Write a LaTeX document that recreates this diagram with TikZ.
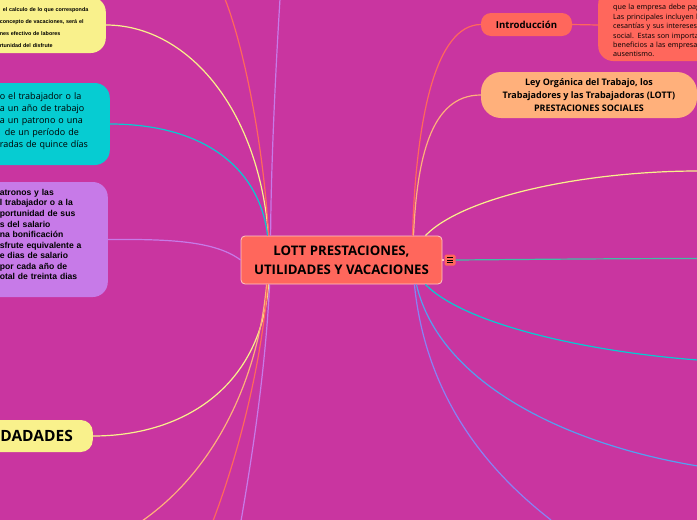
\documentclass[tikz,border=0pt]{standalone}
\usepackage{fontspec}
\setmainfont{Open Sans}
\newfontfamily\arialfont{Liberation Sans}
\definecolor{bgpink}{RGB}{201,53,160}
\definecolor{redbox}{RGB}{255,103,92}
\definecolor{yellowbox}{RGB}{249,241,140}
\definecolor{cyanbox}{RGB}{6,204,210}
\definecolor{purplebox}{RGB}{199,122,232}
\definecolor{orangebox}{RGB}{255,176,123}
\definecolor{tealline}{RGB}{64,190,165}
\definecolor{blueline}{RGB}{84,160,240}
\definecolor{periline}{RGB}{136,130,245}
\tikzset{
    side-box/.style = {fill=#1, rectangle, rounded corners=15pt, inner ysep=0pt, inner xsep=15pt},
    main-box/.style = {draw=white!65!redbox, fill=redbox, line width=0.8pt, rectangle, rounded corners=4pt, minimum width=201pt, minimum height=48pt, align=center, font=\fontsize{13.2}{19}\selectfont\bfseries},
    title-box/.style = {fill=#1, rectangle, align=center, inner sep=0pt, font=\fontsize{9}{12.6}\selectfont\bfseries},
    link/.style = {draw=#1, line width=1.2pt},
}

\begin{document}
\begin{tikzpicture}[x=1pt, y=-1pt]
\useasboundingbox (0,0) rectangle (697,520);
\clip (0,0) rectangle (697,520);
\fill[bgpink] (0,0) rectangle (697,520);

% free ends at the edge of the picture
\coordinate (top-red) at (225,-1);
\coordinate (top-purple) at (280,-1);
\coordinate (low-orange) at (142,521);
\coordinate (low-red) at (213,521);
\coordinate (low-purple) at (241,521);
\coordinate (right-yellow) at (698,171);
\coordinate (right-teal) at (698,258.5);
\coordinate (right-cyan) at (698,360);
\coordinate (right-blue) at (698,466);
\coordinate (right-peri) at (551,520);

\node [main-box] (main) at (341.5,260) {LOTT PRESTACIONES,\\UTILIDADES Y VACACIONES};

% left branches
\node [side-box=yellowbox, anchor=east, text width=91pt, minimum height=56pt, align=left, font=\arialfont\fontsize{5.4}{12}\selectfont\bfseries] (vac-calc) at (106,25) {\\[-2pt]\hspace*{3pt}el calculo de lo que corresponda\\concepto de vacaciones, será el\\nes efectivo de labores\\rtunidad del disfrute};
\node [side-box=cyanbox, anchor=east, text width=95pt, minimum height=82pt, align=left, font=\fontsize{9}{12}\selectfont] (vac-days) at (110,124) {o el trabajador o la\\a un año de trabajo\\a un patrono o una\\\hspace*{5pt}de un período de\\radas de quince días\\[-4pt]\mbox{}};
\node [side-box=purplebox, anchor=east, text width=93pt, minimum height=115pt, align=left, font=\arialfont\fontsize{8.6}{10.55}\selectfont\bfseries] (vac-bonus) at (108,239.5) {atronos y las\\l trabajador o a la\\portunidad de sus\\s del salario\\na bonificación\\sfrute equivalente a\\e dias de salario\\por cada año de\\otal de treinta dias\\[-0.5pt]\mbox{}};
\node [side-box=yellowbox, rounded corners=12pt, inner xsep=20pt, anchor=east, text width=73pt, minimum height=32pt, align=right, font=\fontsize{15.5}{16}\selectfont\bfseries] (util) at (93,436) {DADADES};

% right branches
\node [title-box=redbox, rounded corners=10pt, minimum width=91pt, minimum height=23pt, font=\fontsize{9.6}{12}\selectfont\bfseries] (intro) at (526.5,24.5) {Introducción};
\node [title-box=orangebox, rounded corners=20pt, minimum width=216pt, minimum height=46pt] (ley) at (589,95) {Ley Orgánica del Trabajo, los\\Trabajadores y las Trabajadoras (LOTT)\\PRESTACIONES SOCIALES};
\node [side-box=redbox, anchor=west, text width=110pt, minimum height=72pt, align=left, font=\fontsize{7.2}{9.4}\selectfont] (intro-text) at (598,25) {\\[7.5pt]que la empresa debe pag\\Las principales incluyen l\\cesantías y sus intereses\\social. Estas son importan\\beneficios a las empresas\\ausentismo.};

% connectors
\draw [link=yellowbox] (vac-calc.east) .. controls (185,25) and (258,105) .. ([xshift=28pt]main.north west);
\draw [link=cyanbox] (vac-days.east) .. controls (200,124) and (259,165) .. ([xshift=27pt]main.north west);
\draw [link=purplebox] (vac-bonus.east) .. controls (170,239) and (215,241) .. (main.west);
\draw [link=redbox] (top-red) .. controls (245,50) and (264,150) .. ([xshift=28pt]main.north west);
\draw [link=purplebox] (top-purple) .. controls (275,80) and (271,170) .. ([xshift=30pt]main.north west);
\draw [link=yellowbox] (util.east) .. controls (180,436) and (260,390) .. ([xshift=28pt]main.south west);
\draw [link=orangebox] (low-orange) .. controls (215,470) and (258,380) .. ([xshift=26pt]main.south west);
\draw [link=redbox] (low-red) .. controls (240,450) and (262,360) .. ([xshift=27pt]main.south west);
\draw [link=purplebox] (low-purple) .. controls (255,440) and (266,360) .. ([xshift=29pt]main.south west);

\draw [link=redbox] (main.north) ++(71,0) .. controls (416,120) and (435,25) .. (intro.west);
\draw [link=orangebox] (main.north) ++(72,0) .. controls (417,160) and (430,95) .. (ley.west);
\draw [link=redbox] (intro.east) -- (intro-text.west);
\draw [link=yellowbox] (main.north east) ++(-17,0) .. controls (465,195) and (590,171) .. (right-yellow);
\draw [link=cyanbox] (main.south east) ++(-17,0) .. controls (465,325) and (590,352) .. (right-cyan);
\draw [link=blueline] (main.south east) ++(-26,0) .. controls (440,385) and (570,445) .. (right-blue);
\draw [link=periline] (main.south east) ++(-28,0) .. controls (425,390) and (480,465) .. (right-peri);

% menu icon
\node [fill=redbox, rectangle, rounded corners=1.5pt, minimum size=11pt, inner sep=0pt] (menu) at (450,260) {};
\draw [link=tealline] (menu.east) .. controls (520,259.5) and (620,258.5) .. (right-teal);
\draw [link=white!60!redbox] (main.east) -- (menu.west);
\draw [black, line width=0.7pt] ([xshift=-3pt,yshift=2.5pt]menu.center) -- ([xshift=3pt,yshift=2.5pt]menu.center)
    ([xshift=-3pt]menu.center) -- ([xshift=3pt]menu.center)
    ([xshift=-3pt,yshift=-2.5pt]menu.center) -- ([xshift=3pt,yshift=-2.5pt]menu.center);
\end{tikzpicture}
\end{document}
